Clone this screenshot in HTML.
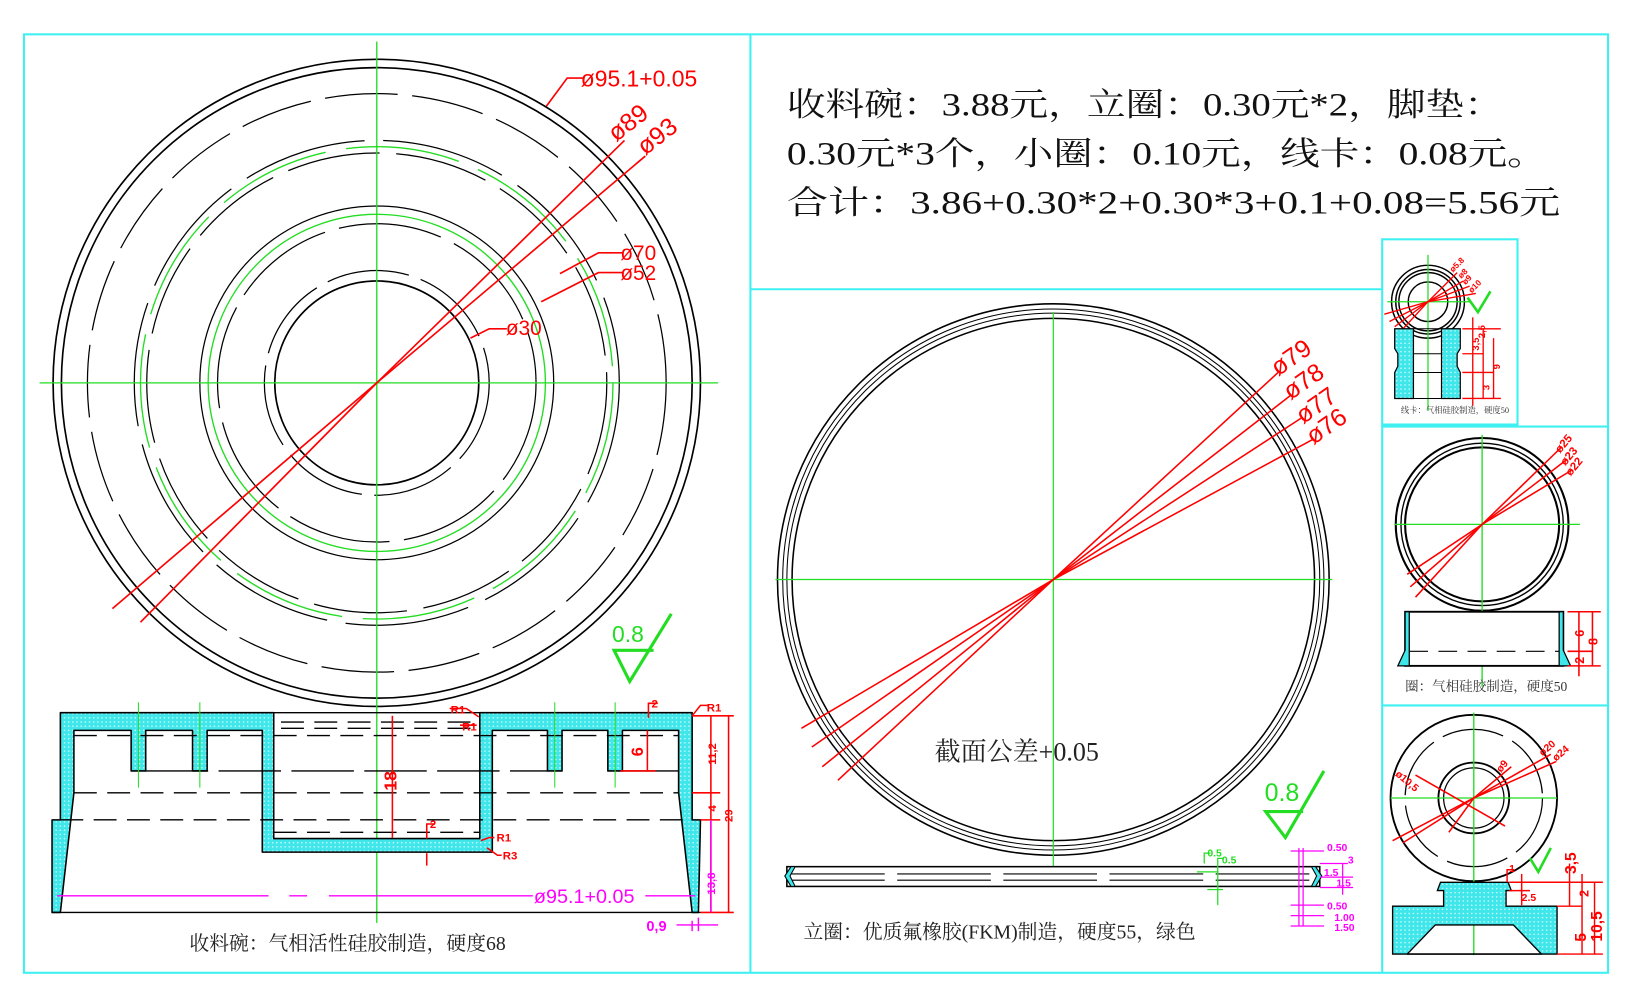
<!DOCTYPE html>
<html><head><meta charset="utf-8"><style>
html,body{margin:0;padding:0;background:#fff}
svg{display:block}
text{font-family:"Liberation Sans","Noto Sans CJK SC",sans-serif}
text.cn, .cn text{font-family:"Liberation Serif","Noto Serif CJK SC",serif}
</style></head><body>
<svg width="1632" height="1004" viewBox="0 0 1568 965" preserveAspectRatio="none" xmlns="http://www.w3.org/2000/svg">
<defs>
<pattern id="h" width="4" height="4" patternUnits="userSpaceOnUse"><rect width="4" height="4" fill="#3fe6ea"/><circle cx="2" cy="2" r="0.8" fill="#c8fafa"/></pattern>
</defs>
<rect width="1568" height="965" fill="#fff"/>
<g stroke="#3ff0f2" stroke-width="2" fill="none">
<rect x="23" y="33" width="1522" height="902"/>
<line x1="721" y1="33" x2="721" y2="935"/>
<line x1="721" y1="278" x2="1328" y2="278"/>
<rect x="1328" y="230" width="130" height="178"/>
<line x1="1328" y1="408" x2="1328" y2="935"/>
<line x1="1328" y1="410" x2="1545" y2="410"/>
<line x1="1328" y1="678" x2="1545" y2="678"/>
</g>

<!-- LEFT big plan view -->
<g fill="none" stroke="#000" stroke-width="1.6">
<circle cx="362" cy="368" r="311"/>
<circle cx="362" cy="368" r="303"/>
<circle cx="362" cy="368" r="278" stroke-width="1.2" stroke-dasharray="70 14"/>
<circle cx="362" cy="368" r="233" stroke-width="1.2" stroke-dasharray="120 18"/>
<circle cx="362" cy="368" r="221" stroke-width="1.2" stroke-dasharray="90 16"/>
<circle cx="362" cy="368" r="170" stroke-width="1.2"/>
<circle cx="362" cy="368" r="153" stroke-width="1.2" stroke-dasharray="100 14"/>
<circle cx="362" cy="368" r="108" stroke-width="1.2" stroke-dasharray="80 12"/>
<circle cx="362" cy="368" r="98"/>
</g>
<g fill="none" stroke="#22dd22" stroke-width="1.3">
<circle cx="362" cy="368" r="227" stroke-dasharray="110 20"/>
<circle cx="362" cy="368" r="162"/>
<line x1="38" y1="368" x2="690" y2="368"/>
<line x1="362" y1="40" x2="362" y2="887"/>
</g>
<g stroke="#f00" stroke-width="1.6" fill="none">
<polyline points="108,585 362,368 620,150"/>
<polyline points="135,598 362,368 600,135"/>
<polyline points="525,102 545,75 560,75"/>
<polyline points="538,263 575,243 598,243"/>
<polyline points="520,290 575,262 598,262"/>
<polyline points="452,325 470,316 487,316"/>
</g>
<g fill="#f00" font-size="22">
<text x="558" y="83">ø95.1+0.05</text>
<text x="592" y="137" transform="rotate(-38 592 137)" font-size="24">ø89</text>
<text x="620" y="150" transform="rotate(-38 620 150)" font-size="24">ø93</text>
<text x="596" y="250" font-size="20">ø70</text>
<text x="596" y="269" font-size="20">ø52</text>
<text x="486" y="322" font-size="20">ø30</text>
</g>
<polyline points="628,625 590,625 605,655 645,590" stroke="#22dd22" stroke-width="3" fill="none"/>
<text x="588" y="617" font-size="22" fill="#22dd22">0.8</text>

<!-- LEFT section -->
<path d="M58,685 L263,685 L263,806 L461,806 L461,685 L665,685 L665,788 L673,788 L671,877 L665,877 L652,762 L652,702 L598,702 L598,741 L584,741 L584,702 L540,702 L540,741 L526,741 L526,702 L473,702 L473,819 L252,819 L252,702 L199,702 L199,741 L185,741 L185,702 L140,702 L140,741 L126,741 L126,702 L71,702 L71,762 L58,877 L50,877 L50,788 L58,788 Z" fill="url(#h)" stroke="#000" stroke-width="1.5" stroke-linejoin="round"/>
<g stroke="#000" stroke-width="1.3" fill="none">
<line x1="263" y1="685" x2="461" y2="685"/>
<line x1="50" y1="877" x2="673" y2="877"/>
<line x1="140" y1="741" x2="526" y2="741" stroke-dasharray="60 10"/>
<line x1="598" y1="741" x2="652" y2="741"/>
<line x1="71" y1="762" x2="652" y2="762" stroke-dasharray="22 10"/>
<line x1="58" y1="788" x2="665" y2="788" stroke-dasharray="22 10"/>
<line x1="263" y1="800" x2="461" y2="800" stroke-dasharray="22 10"/>
<line x1="71" y1="707" x2="652" y2="707" stroke-dasharray="22 10"/>
<line x1="270" y1="694" x2="455" y2="694" stroke-dasharray="22 10"/>
<line x1="270" y1="700" x2="455" y2="700" stroke-dasharray="22 10"/>
</g>
<g stroke="#22dd22" stroke-width="1">
<line x1="133" y1="675" x2="133" y2="757"/><line x1="192" y1="675" x2="192" y2="757"/>
<line x1="533" y1="675" x2="533" y2="757"/><line x1="591" y1="675" x2="591" y2="757"/>
</g>
<g stroke="#f00" stroke-width="1.5" fill="none">
<line x1="377" y1="688" x2="377" y2="805"/>
<line x1="596" y1="741" x2="630" y2="741"/><line x1="622" y1="702" x2="622" y2="741"/>
<line x1="665" y1="688" x2="705" y2="688"/><line x1="683" y1="688" x2="683" y2="877"/>
<line x1="700" y1="688" x2="700" y2="877"/><line x1="665" y1="762" x2="692" y2="762"/>
<line x1="673" y1="788" x2="692" y2="788"/><line x1="673" y1="877" x2="705" y2="877"/>
<polyline points="623,690 623,676 632,676"/><polyline points="410,806 410,792 418,792"/>
<line x1="410" y1="820" x2="410" y2="832"/>
<polyline points="665,688 673,678 680,678"/><polyline points="462,808 470,805 475,805"/><polyline points="468,815 478,822 482,822"/>
<polyline points="460,689 448,681 432,681"/><polyline points="458,697 450,697 442,697"/>
</g>
<g fill="#f00" font-size="11" font-weight="bold">
<text x="381" y="760" transform="rotate(-90 381 760)" font-size="17">18</text>
<text x="618" y="727" transform="rotate(-90 618 727)" font-size="16">6</text>
<text x="688" y="735" transform="rotate(-90 688 735)">11,2</text>
<text x="688" y="780" transform="rotate(-90 688 780)">4</text>
<text x="704" y="790" transform="rotate(-90 704 790)">29</text>
<text x="626" y="680">2</text><text x="413" y="796">2</text>
<text x="679" y="684">R1</text><text x="433" y="686">R1</text><text x="444" y="702">R1</text>
<text x="477" y="809">R1</text><text x="483" y="826">R3</text>
</g>
<g stroke="#f0f" stroke-width="1.4" fill="none">
<line x1="55" y1="861" x2="258" y2="861"/><line x1="278" y1="861" x2="295" y2="861"/>
<line x1="316" y1="861" x2="512" y2="861"/><line x1="620" y1="861" x2="668" y2="861"/>
<line x1="683" y1="788" x2="683" y2="877"/>
<line x1="665" y1="885" x2="665" y2="895"/><line x1="671" y1="882" x2="671" y2="895"/>
<line x1="650" y1="889" x2="690" y2="889"/>
</g>
<text x="513" y="868" fill="#f0f" font-size="19">ø95.1+0.05</text>
<text x="687" y="860" transform="rotate(-90 687 860)" fill="#f0f" font-size="11" font-weight="bold">13,8</text>
<text x="621" y="895" fill="#f0f" font-size="14" font-weight="bold">0,9</text>
<text x="182" y="913" class="cn" font-size="19" fill="#222">收料碗：气相活性硅胶制造，硬度68</text>

<!-- TOP right text -->
<g font-size="31" fill="#111">
<text class="cn" x="756" y="111" textLength="688" lengthAdjust="spacingAndGlyphs">收料碗：3.88元，立圈：0.30元*2，脚垫：</text>
<text class="cn" x="756" y="158" textLength="730" lengthAdjust="spacingAndGlyphs">0.30元*3个，小圈：0.10元，线卡：0.08元。</text>
<text class="cn" x="756" y="205" textLength="743" lengthAdjust="spacingAndGlyphs">合计：3.86+0.30*2+0.30*3+0.1+0.08=5.56元</text>
</g>

<!-- MIDDLE ring -->
<g fill="none" stroke="#000" stroke-width="1.5">
<circle cx="1012" cy="557" r="265"/>
<circle cx="1012" cy="557" r="260" stroke-width="1"/>
<circle cx="1012" cy="557" r="256" stroke-width="1"/>
<circle cx="1012" cy="557" r="251"/>
</g>
<g stroke="#22dd22" stroke-width="1.2">
<line x1="745" y1="557" x2="1280" y2="557"/>
<line x1="1012" y1="300" x2="1012" y2="850"/>
</g>
<g stroke="#f00" stroke-width="1.5" fill="none">
<polyline points="770,700 1012,557 1228,358"/>
<polyline points="780,718 1012,557 1240,380"/>
<polyline points="790,737 1012,557 1250,402"/>
<polyline points="805,750 1012,557 1262,422"/>
</g>
<g fill="#f00" font-size="24">
<text x="1228" y="362" transform="rotate(-35 1228 362)">ø79</text>
<text x="1240" y="385" transform="rotate(-35 1240 385)">ø78</text>
<text x="1252" y="408" transform="rotate(-35 1252 408)">ø77</text>
<text x="1262" y="428" transform="rotate(-35 1262 428)">ø76</text>
</g>
<text x="898" y="731" class="cn" font-size="25" fill="#222">截面公差+0.05</text>
<polyline points="1252,780 1216,780 1235,805 1272,741" stroke="#22dd22" stroke-width="3" fill="none"/>
<text x="1215" y="770" font-size="24" fill="#22dd22">0.8</text>
<rect x="756" y="833" width="512" height="19" fill="#fff" stroke="#000" stroke-width="1.5"/>
<line x1="760" y1="840" x2="1265" y2="840" stroke="#000" stroke-dasharray="90 12"/>
<line x1="760" y1="846" x2="1265" y2="846" stroke="#000" stroke-dasharray="90 12"/>
<path d="M760,833 L754,842 L760,852 L764,852 L759,842 L764,833Z" fill="#3fe6ea" stroke="#000"/>
<path d="M1264,833 L1270,842 L1264,852 L1260,852 L1265,842 L1260,833Z" fill="#3fe6ea" stroke="#000"/>
<g stroke="#22dd22" stroke-width="1.2" fill="none">
<polyline points="1157,830 1157,820 1163,820"/><polyline points="1170,855 1170,825 1176,825"/>
<line x1="1150" y1="838" x2="1170" y2="838"/><line x1="1160" y1="855" x2="1175" y2="855"/><line x1="1170" y1="855" x2="1170" y2="870"/>
</g>
<text x="1160" y="823" fill="#22dd22" font-size="10" font-weight="bold">0.5</text>
<text x="1174" y="830" fill="#22dd22" font-size="10" font-weight="bold">0.5</text>
<g stroke="#f0f" stroke-width="1.2" fill="none">
<line x1="1248" y1="815" x2="1248" y2="890"/><line x1="1252" y1="815" x2="1252" y2="890"/>
<line x1="1268" y1="830" x2="1295" y2="830"/><line x1="1268" y1="843" x2="1300" y2="843"/><line x1="1268" y1="853" x2="1300" y2="853"/>
<line x1="1240" y1="818" x2="1272" y2="818"/><line x1="1240" y1="870" x2="1272" y2="870"/>
<line x1="1240" y1="880" x2="1272" y2="880"/><line x1="1240" y1="890" x2="1272" y2="890"/>
<line x1="1290" y1="830" x2="1290" y2="860"/>
</g>
<g fill="#f0f" font-size="10" font-weight="bold">
<text x="1275" y="818">0.50</text><text x="1295" y="830">3</text>
<text x="1272" y="842">1.5</text><text x="1284" y="852">1.5</text>
<text x="1275" y="874">0.50</text><text x="1282" y="885">1.00</text><text x="1282" y="895">1.50</text>
</g>
<text x="772" y="902" class="cn" font-size="19" fill="#222">立圈：优质氟橡胶(FKM)制造，硬度55，绿色</text>

<!-- Panel A -->
<g fill="none" stroke="#000" stroke-width="1.4">
<circle cx="1372" cy="290" r="35"/><circle cx="1372" cy="290" r="31"/><circle cx="1372" cy="290" r="28"/><circle cx="1372" cy="290" r="19"/>
</g>
<g stroke="#22dd22" stroke-width="1.2"><line x1="1333" y1="290" x2="1412" y2="290"/><line x1="1372" y1="245" x2="1372" y2="395"/></g>
<g stroke="#f00" stroke-width="1.3" fill="none"><polyline points="1330,302 1372,290 1400,262"/><polyline points="1335,309 1372,290 1406,270"/><polyline points="1340,314 1372,290 1412,275"/><polyline points="1348,316 1372,290 1418,282"/></g>
<g fill="#f00" font-size="8" font-weight="bold">
<text x="1396" y="262" transform="rotate(-45 1396 262)">ø5.8</text><text x="1404" y="268" transform="rotate(-45 1404 268)">ø8</text>
<text x="1408" y="274" transform="rotate(-45 1408 274)">ø9</text><text x="1414" y="282" transform="rotate(-45 1414 282)">ø10</text>
</g>
<path d="M1410,286 L1420,300 L1432,280" stroke="#22dd22" stroke-width="2.5" fill="none"/>
<path d="M1340,316 L1358,316 L1358,383 L1340,383 L1340,358 L1343,352 L1343,340 L1340,335 Z M1385,316 L1403,316 L1403,335 L1400,340 L1400,352 L1403,358 L1403,383 L1385,383Z" fill="url(#h)" stroke="#000" stroke-width="1.2"/>
<g stroke="#000" stroke-width="1"><line x1="1358" y1="316" x2="1385" y2="316"/><line x1="1358" y1="383" x2="1385" y2="383"/><line x1="1358" y1="340" x2="1385" y2="340"/><line x1="1358" y1="358" x2="1385" y2="358"/></g>
<g stroke="#f00" stroke-width="1.3"><line x1="1405" y1="316" x2="1442" y2="316"/><line x1="1405" y1="383" x2="1442" y2="383"/><line x1="1415" y1="305" x2="1415" y2="390"/><line x1="1425" y1="316" x2="1425" y2="383"/><line x1="1435" y1="325" x2="1435" y2="383"/><line x1="1405" y1="340" x2="1425" y2="340"/><line x1="1405" y1="358" x2="1435" y2="358"/></g>
<g fill="#f00" font-size="9" font-weight="bold"><text x="1421" y="337" transform="rotate(-90 1421 337)">3,5</text><text x="1427" y="325" transform="rotate(-90 1427 325)">2,5</text><text x="1441" y="355" transform="rotate(-90 1441 355)">9</text><text x="1431" y="375" transform="rotate(-90 1431 375)">3</text></g>
<text x="1346" y="397" class="cn" font-size="8" fill="#333">线卡：气相硅胶制造，硬度50</text>

<!-- Panel B -->
<g fill="none" stroke="#000" stroke-width="2">
<circle cx="1424" cy="504" r="83"/><circle cx="1424" cy="504" r="78" stroke-width="1.3"/><circle cx="1424" cy="504" r="74"/>
</g>
<g stroke="#22dd22" stroke-width="1.3"><line x1="1340" y1="504" x2="1518" y2="504"/><line x1="1424" y1="418" x2="1424" y2="660"/></g>
<g stroke="#f00" stroke-width="1.5" fill="none"><polyline points="1352,552 1424,504 1500,430"/><polyline points="1355,564 1424,504 1505,442"/><polyline points="1360,574 1424,504 1510,452"/></g>
<g fill="#f00" font-size="11" font-weight="bold">
<text x="1499" y="436" transform="rotate(-50 1499 436)">ø25</text><text x="1504" y="448" transform="rotate(-50 1504 448)">ø23</text><text x="1509" y="458" transform="rotate(-50 1509 458)">ø22</text>
</g>
<rect x="1350" y="588" width="152" height="52" fill="#fff" stroke="#000" stroke-width="1.8"/>
<path d="M1350,588 L1354,588 L1354,640 L1343,640 L1350,625Z M1502,588 L1498,588 L1498,640 L1509,640 L1502,625Z" fill="#3fe6ea" stroke="#000" stroke-width="1.2"/>
<line x1="1354" y1="626" x2="1498" y2="626" stroke="#000" stroke-dasharray="18 10"/>
<g stroke="#f00" stroke-width="1.5"><line x1="1506" y1="588" x2="1538" y2="588"/><line x1="1506" y1="640" x2="1538" y2="640"/><line x1="1506" y1="626" x2="1530" y2="626"/><line x1="1517" y1="588" x2="1517" y2="650"/><line x1="1530" y1="588" x2="1530" y2="640"/></g>
<g fill="#f00" font-size="12" font-weight="bold"><text x="1522" y="612" transform="rotate(-90 1522 612)">6</text><text x="1535" y="620" transform="rotate(-90 1535 620)">8</text><text x="1522" y="638" transform="rotate(-90 1522 638)">2</text></g>
<text x="1350" y="664" class="cn" font-size="13" fill="#333">圈：气相硅胶制造，硬度50</text>

<!-- Panel C -->
<g fill="none" stroke="#000" stroke-width="1.8">
<circle cx="1416" cy="767" r="80"/><circle cx="1416" cy="767" r="66" stroke-width="1.2" stroke-dasharray="60 10"/>
<circle cx="1416" cy="767" r="34"/><circle cx="1416" cy="767" r="29" stroke-width="1.2"/>
</g>
<g stroke="#22dd22" stroke-width="1.3"><line x1="1336" y1="767" x2="1496" y2="767"/><line x1="1416" y1="685" x2="1416" y2="918"/></g>
<g stroke="#f00" stroke-width="1.5" fill="none">
<polyline points="1338,808 1416,767 1490,725"/><polyline points="1348,810 1416,767 1495,732"/>
<polyline points="1392,800 1416,767 1452,737"/><line x1="1360" y1="745" x2="1446" y2="794"/>
</g>
<g fill="#f00" font-size="10" font-weight="bold">
<text x="1340" y="745" transform="rotate(40 1340 745)">ø10,5</text><text x="1442" y="743" transform="rotate(-50 1442 743)">ø9</text>
<text x="1482" y="727" transform="rotate(-40 1482 727)">ø20</text><text x="1495" y="732" transform="rotate(-40 1495 732)">ø24</text>
</g>
<path d="M1384,848 L1449,848 L1452,856 L1447,856 L1447,871 L1496,871 L1496,917 L1481,917 L1454,889 L1379,889 L1352,917 L1338,917 L1338,871 L1387,871 L1387,856 L1381,856 Z" fill="url(#h)" stroke="#000" stroke-width="1.3"/>
<line x1="1352" y1="917" x2="1481" y2="917" stroke="#000" stroke-width="1.5"/>
<g stroke="#f00" stroke-width="1.4"><line x1="1450" y1="848" x2="1540" y2="848"/><line x1="1450" y1="856" x2="1470" y2="856"/><line x1="1496" y1="871" x2="1520" y2="871"/><line x1="1496" y1="917" x2="1540" y2="917"/><line x1="1508" y1="830" x2="1508" y2="871"/><line x1="1520" y1="840" x2="1520" y2="917"/><line x1="1532" y1="848" x2="1532" y2="917"/><line x1="1462" y1="840" x2="1462" y2="870"/><polyline points="1448,848 1448,836 1455,836" fill="none"/></g>
<g fill="#f00" font-size="12" font-weight="bold"><text x="1514" y="840" transform="rotate(-90 1514 840)" font-size="15">3,5</text><text x="1526" y="862" transform="rotate(-90 1526 862)">2</text><text x="1539" y="905" transform="rotate(-90 1539 905)" font-size="15">10,5</text><text x="1524" y="905" transform="rotate(-90 1524 905)" font-size="15">5</text><text x="1462" y="866" font-size="10">2.5</text><text x="1450" y="838" font-size="10">1</text></g>
<path d="M1470,825 L1478,838 L1490,815" stroke="#22dd22" stroke-width="2.5" fill="none"/>
</svg>
</body></html>
